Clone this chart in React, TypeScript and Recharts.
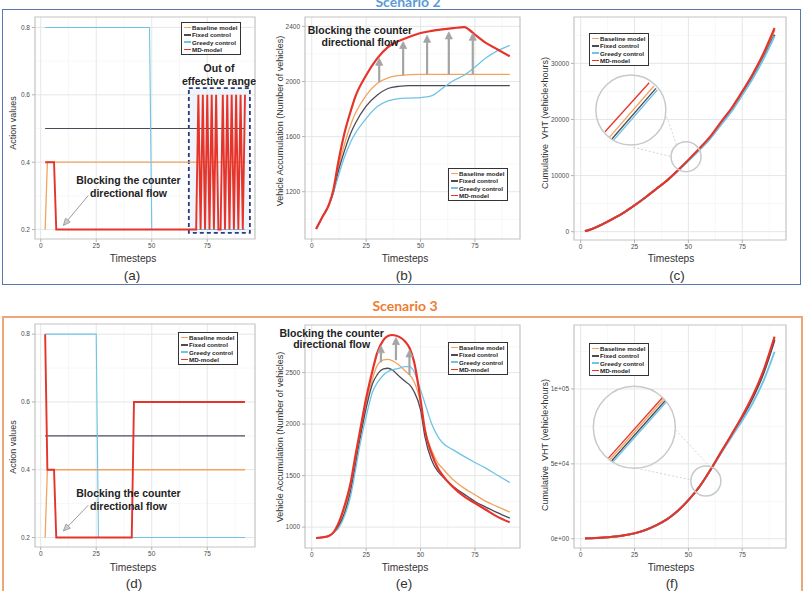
import React from 'react';
import {
  LineChart,
  Line,
  XAxis,
  YAxis,
  CartesianGrid,
  ReferenceArea,
  ReferenceLine,
  ReferenceDot,
} from 'recharts';

const FONT = "'Liberation Sans', Arial, Helvetica, sans-serif";

const SERIES = ['Baseline model', 'Fixed control', 'Greedy control', 'MD-model'];
const COLORS = ['#F2A35E', '#4B4B58', '#6EC4E6', '#E6342B'];

const X_TICKS = [0, 25, 50, 75];
const X_MINOR = [12.5, 37.5, 62.5, 87.5];

const ACT_TICKS = [0.2, 0.4, 0.6, 0.8];
const ACT_MINOR = [0.3, 0.5, 0.7];
const ACC2_TICKS = [1200, 1600, 2000, 2400];
const ACC2_MINOR = [1000, 1400, 1800, 2200];
const CUM2_TICKS = [0, 10000, 20000, 30000];
const CUM2_MINOR = [5000, 15000, 25000, 35000];
const ACC3_TICKS = [1000, 1500, 2000, 2500];
const ACC3_MINOR = [1250, 1750, 2250, 2750];
const CUM3_TICKS = [0, 50000, 100000];
const CUM3_MINOR = [25000, 75000, 125000];
const CUM3_LABELS = ['0e+00', '5e+04', '1e+05'];

// ---- Scenario 2: action values (timestep, value)
const S2_ACT_BASE = [[2, 0.2], [3, 0.4], [92, 0.4]];
const S2_ACT_FIXED = [[2, 0.5], [92, 0.5]];
const S2_ACT_GREEDY = [[2, 0.8], [49, 0.8], [50, 0.2], [92, 0.2]];
const S2_ACT_MD = [
  [2, 0.4], [6, 0.4], [7, 0.2], [70, 0.2], [71, 0.6], [72, 0.2], [73, 0.6], [74, 0.2],
  [75, 0.6], [76, 0.2], [77, 0.6], [78, 0.2], [79, 0.6], [80, 0.2], [81, 0.2], [82, 0.6],
  [83, 0.2], [84, 0.6], [85, 0.2], [86, 0.6], [87, 0.2], [88, 0.6], [89, 0.2], [90, 0.6],
  [91, 0.2], [92, 0.6],
];

// ---- Scenario 2: vehicle accumulation
const S2_ACC_T = [2, 5, 8, 10, 12, 15, 18, 20, 25, 30, 35, 40, 45, 50, 55, 60, 65, 70, 75, 80, 85, 91];
const S2_ACC_BASE = [930, 1020, 1110, 1200, 1360, 1542, 1690, 1767, 1900, 1985, 2026, 2043, 2050, 2052, 2052, 2052, 2052, 2052, 2052, 2052, 2052, 2052];
const S2_ACC_FIXED = [930, 1020, 1110, 1198, 1335, 1495, 1628, 1695, 1821, 1900, 1949, 1965, 1970, 1970, 1970, 1970, 1970, 1970, 1970, 1970, 1970, 1970];
const S2_ACC_GREEDY = [930, 1020, 1110, 1195, 1300, 1450, 1565, 1623, 1731, 1816, 1859, 1876, 1880, 1883, 1895, 1950, 2005, 2045, 2105, 2170, 2220, 2262];
const S2_ACC_MD = [930, 1020, 1110, 1218, 1398, 1623, 1790, 1888, 2045, 2166, 2250, 2294, 2325, 2352, 2367, 2378, 2387, 2395, 2340, 2280, 2236, 2183];

// ---- Scenario 2: cumulative VHT
const S2_CUM_T = [2, 5, 10, 15, 20, 25, 30, 35, 40, 45, 50, 55, 60, 65, 70, 75, 80, 85, 90];
const S2_CUM_BASE = [100, 450, 1300, 2300, 3400, 4700, 6100, 7600, 9100, 10880, 12750, 14700, 16800, 19300, 21850, 24800, 27950, 31600, 35900];
const S2_CUM_FIXED = [100, 450, 1300, 2300, 3400, 4700, 6100, 7600, 9100, 10850, 12700, 14600, 16650, 19100, 21600, 24500, 27600, 31100, 35100];
const S2_CUM_GREEDY = [100, 450, 1300, 2300, 3400, 4700, 6100, 7600, 9100, 10850, 12650, 14550, 16550, 19000, 21450, 24350, 27400, 30900, 34900];
const S2_CUM_MD = [100, 450, 1300, 2300, 3400, 4700, 6100, 7600, 9100, 10900, 12800, 14800, 16900, 19500, 22000, 25000, 28200, 31900, 36300];

// ---- Scenario 3: action values
const S3_ACT_BASE = [[2, 0.2], [3, 0.4], [92, 0.4]];
const S3_ACT_FIXED = [[2, 0.5], [92, 0.5]];
const S3_ACT_GREEDY = [[2, 0.8], [25, 0.8], [26, 0.2], [92, 0.2]];
const S3_ACT_MD = [[2, 0.8], [3, 0.4], [6, 0.4], [7, 0.2], [41, 0.2], [42, 0.6], [92, 0.6]];

// ---- Scenario 3: vehicle accumulation
const S3_ACC_T = [2, 5, 8, 10, 12, 15, 18, 20, 22, 25, 28, 30, 33, 35, 37, 40, 43, 45, 47, 50, 52, 55, 58, 60, 65, 70, 75, 80, 85, 91];
const S3_ACC_BASE = [894, 900, 916, 949, 1000, 1152, 1395, 1621, 1863, 2203, 2445, 2565, 2623, 2629, 2616, 2574, 2516, 2477, 2413, 2203, 1944, 1750, 1621, 1572, 1459, 1378, 1314, 1249, 1201, 1146];
const S3_ACC_FIXED = [894, 900, 916, 949, 1000, 1130, 1362, 1589, 1831, 2154, 2397, 2477, 2536, 2542, 2526, 2468, 2413, 2380, 2316, 2138, 1879, 1653, 1540, 1492, 1395, 1320, 1249, 1194, 1143, 1088];
const S3_ACC_GREEDY = [894, 900, 916, 949, 981, 1104, 1314, 1540, 1782, 2073, 2316, 2397, 2477, 2510, 2526, 2542, 2558, 2558, 2510, 2332, 2203, 2009, 1879, 1821, 1750, 1686, 1627, 1572, 1508, 1433];
const S3_ACC_MD = [894, 900, 916, 949, 1023, 1201, 1443, 1686, 1912, 2251, 2526, 2687, 2817, 2855, 2865, 2849, 2800, 2736, 2607, 2235, 1944, 1718, 1572, 1508, 1388, 1298, 1233, 1168, 1104, 1046];

// ---- Scenario 3: cumulative VHT
const S3_CUM_T = [2, 5, 10, 15, 20, 25, 30, 35, 40, 45, 50, 55, 60, 65, 70, 75, 80, 85, 90];
const S3_CUM_BASE = [200, 350, 700, 1300, 2200, 3600, 5800, 8900, 12900, 18500, 25800, 34500, 45500, 57400, 69300, 81500, 95200, 111800, 133800];
const S3_CUM_FIXED = [200, 350, 700, 1300, 2200, 3600, 5800, 8900, 12900, 18500, 25800, 34500, 45400, 57300, 69000, 81000, 94500, 111000, 132700];
const S3_CUM_GREEDY = [200, 350, 700, 1300, 2200, 3600, 5800, 8900, 12900, 18500, 25800, 34400, 45200, 56800, 68000, 79000, 91000, 106000, 124900];
const S3_CUM_MD = [200, 350, 700, 1300, 2200, 3600, 5800, 8900, 12900, 18500, 25800, 34500, 45500, 57500, 69500, 82000, 96000, 113000, 135000];

// arrows: gain of the MD-model over the baseline
const S2_ARROW_T = [31, 42, 53, 63, 74];
const S2_ARROW_FROM = [1997, 2045, 2052, 2052, 2052];
const S2_ARROW_TO = [2168, 2290, 2335, 2360, 2350];
const S3_ARROW_T = [31.8, 38.7, 44.9];
const S3_ARROW_FROM = [2600, 2620, 2477];
const S3_ARROW_TO = [2760, 2840, 2720];

type Row = { t: number; v: number };
type Ser = { name: string; color: string; width: number; rows: Row[] };
type Box = { x: number; y: number; w: number; h: number };

const pairs = (p: number[][]): Row[] => p.map(([t, v]) => ({ t, v }));
const zip = (t: number[], v: number[]): Row[] => t.map((x, i) => ({ t: x, v: v[i] }));
const mk = (rows: Row[][], widths: number[]): Ser[] =>
  rows.map((r, i) => ({ name: SERIES[i], color: COLORS[i], width: widths[i], rows: r }));

const arrowShape = (color: string, width: number, headLen: number, headW: number, fill: string) =>
  (p: any) => {
    const { x1, y1, x2, y2 } = p;
    const dx = x2 - x1;
    const dy = y2 - y1;
    const len = Math.hypot(dx, dy) || 1;
    const ux = dx / len;
    const uy = dy / len;
    const bx = x2 - ux * headLen;
    const by = y2 - uy * headLen;
    const nx = (-uy * headW) / 2;
    const ny = (ux * headW) / 2;
    return (
      <g>
        <line x1={x1} y1={y1} x2={bx} y2={by} stroke={color} strokeWidth={width} />
        <polygon
          points={`${x2},${y2} ${bx + nx},${by + ny} ${bx - nx},${by - ny}`}
          fill={fill}
          stroke={color}
          strokeWidth={0.8}
        />
      </g>
    );
  };

const thinArrow = arrowShape('#8f8f8f', 0.9, 7, 6, '#cfcfcf');
const fatArrow = arrowShape('#a5a5a5', 2.2, 7, 7, '#a5a5a5');

interface PanelProps {
  box: Box;
  xDomain: [number, number];
  yDomain: [number, number];
  yTicks: number[];
  yMinor: number[];
  yFmt: (v: number) => string;
  series: Ser[];
  curve: 'linear' | 'monotone';
  under?: React.ReactNode;
  over?: React.ReactNode;
}

function Panel({ box, xDomain, yDomain, yTicks, yMinor, yFmt, series, curve, under, over }: PanelProps) {
  const tickStyle = { fontSize: 6.5, fill: '#4d4d4d', fontFamily: FONT };
  return (
    <div style={{ position: 'absolute', left: box.x - 40, top: box.y - 4 }}>
      <LineChart width={box.w + 44} height={box.h + 20} margin={{ top: 4, right: 4, bottom: 0, left: 0 }}>
        <CartesianGrid verticalValues={X_MINOR} horizontalValues={yMinor} stroke="#f2f2f2" strokeWidth={0.6} />
        <CartesianGrid verticalValues={X_TICKS} horizontalValues={yTicks} stroke="#e3e3e3" strokeWidth={0.9} />
        <XAxis
          type="number"
          dataKey="t"
          domain={xDomain}
          allowDataOverflow
          ticks={X_TICKS}
          interval={0}
          height={16}
          axisLine={false}
          tickLine={{ stroke: '#b3b3b3' }}
          tickSize={3}
          tickMargin={1}
          tick={tickStyle}
        />
        <YAxis
          type="number"
          dataKey="v"
          domain={yDomain}
          allowDataOverflow
          ticks={yTicks}
          interval={0}
          width={40}
          axisLine={false}
          tickLine={{ stroke: '#b3b3b3' }}
          tickSize={3}
          tickMargin={2}
          tick={tickStyle}
          tickFormatter={yFmt}
        />
        <ReferenceArea
          x1={xDomain[0]}
          x2={xDomain[1]}
          y1={yDomain[0]}
          y2={yDomain[1]}
          fill="none"
          stroke="#c4c4c4"
          strokeWidth={1.2}
        />
        {under}
        {series.map((s) => (
          <Line
            key={s.name}
            data={s.rows}
            dataKey="v"
            type={curve}
            stroke={s.color}
            strokeWidth={s.width}
            dot={false}
            activeDot={false}
            isAnimationActive={false}
          />
        ))}
        {over}
      </LineChart>
    </div>
  );
}

function LegendBox({ x, y }: { x: number; y: number }) {
  return (
    <div
      style={{
        position: 'absolute',
        left: x,
        top: y,
        border: '1.5px solid #333',
        background: '#fff',
        padding: '1px 3px 1px 2px',
        fontFamily: FONT,
        fontWeight: 700,
        fontSize: 6.2,
        lineHeight: '7.3px',
        color: '#222',
        whiteSpace: 'nowrap',
      }}
    >
      {SERIES.map((n, i) => (
        <div key={n} style={{ display: 'flex', alignItems: 'center' }}>
          <span style={{ display: 'inline-block', width: 7, height: 1.6, background: COLORS[i], marginRight: 1 }} />
          {n}
        </div>
      ))}
    </div>
  );
}

function Txt({
  x, y, size, children, bold = false, color = '#333', rotate = false, lh, family = FONT,
}: {
  x: number; y: number; size: number; children: React.ReactNode; bold?: boolean; color?: string;
  rotate?: boolean; lh?: number; family?: string;
}) {
  return (
    <div
      style={{
        position: 'absolute',
        left: x,
        top: y,
        transform: `translate(-50%, -50%)${rotate ? ' rotate(-90deg)' : ''}`,
        fontFamily: family,
        fontSize: size,
        fontWeight: bold ? 700 : 400,
        color,
        whiteSpace: 'pre',
        textAlign: 'center',
        lineHeight: lh ? `${lh}px` : 'normal',
      }}
    >
      {children}
    </div>
  );
}

function lensParts(big: [number, number], bigR: number, small: [number, number], links: number[][][], strokes: number[][][]) {
  return (
    <>
      <ReferenceDot x={big[0]} y={big[1]} r={bigR} fill="none" stroke="#c9c9c9" strokeWidth={1.5} />
      <ReferenceDot x={small[0]} y={small[1]} r={15} fill="none" stroke="#c9c9c9" strokeWidth={1.5} />
      {links.map((s, i) => (
        <ReferenceLine
          key={`lk${i}`}
          segment={[{ x: s[0][0], y: s[0][1] }, { x: s[1][0], y: s[1][1] }]}
          stroke="#c9c9c9"
          strokeWidth={0.8}
          strokeDasharray="2 2"
        />
      ))}
      {strokes.map((s, i) => (
        <ReferenceLine
          key={`st${i}`}
          segment={[{ x: s[0][0], y: s[0][1] }, { x: s[1][0], y: s[1][1] }]}
          stroke={COLORS[[3, 0, 1, 2][i]]}
          strokeWidth={1.3}
        />
      ))}
    </>
  );
}

const BOX_A: Box = { x: 35, y: 17, w: 220, h: 222 };
const BOX_B: Box = { x: 305, y: 17, w: 215, h: 222 };
const BOX_C: Box = { x: 574, y: 17, w: 212, h: 223 };
const BOX_D: Box = { x: 35, y: 324, w: 220, h: 223 };
const BOX_E: Box = { x: 305, y: 325, w: 215, h: 223 };
const BOX_F: Box = { x: 574, y: 325, w: 212, h: 223 };

const fmt1 = (v: number) => v.toFixed(1);
const fmtInt = (v: number) => String(v);
const fmtSci = (v: number) => CUM3_LABELS[CUM3_TICKS.indexOf(v)] ?? String(v);

export default function App() {
  const actW = [1.3, 1.1, 1.1, 1.9];
  const accW = [1.3, 1.3, 1.3, 2.2];
  const cumW = [1.9, 1.9, 1.9, 2.1];

  const a = mk([pairs(S2_ACT_BASE), pairs(S2_ACT_FIXED), pairs(S2_ACT_GREEDY), pairs(S2_ACT_MD)], actW);
  const b = mk([zip(S2_ACC_T, S2_ACC_BASE), zip(S2_ACC_T, S2_ACC_FIXED), zip(S2_ACC_T, S2_ACC_GREEDY), zip(S2_ACC_T, S2_ACC_MD)], accW);
  const c = mk([zip(S2_CUM_T, S2_CUM_BASE), zip(S2_CUM_T, S2_CUM_FIXED), zip(S2_CUM_T, S2_CUM_GREEDY), zip(S2_CUM_T, S2_CUM_MD)], cumW);
  const d = mk([pairs(S3_ACT_BASE), pairs(S3_ACT_FIXED), pairs(S3_ACT_GREEDY), pairs(S3_ACT_MD)], actW);
  const e = mk([zip(S3_ACC_T, S3_ACC_BASE), zip(S3_ACC_T, S3_ACC_FIXED), zip(S3_ACC_T, S3_ACC_GREEDY), zip(S3_ACC_T, S3_ACC_MD)], accW);
  const f = mk([zip(S3_CUM_T, S3_CUM_BASE), zip(S3_CUM_T, S3_CUM_FIXED), zip(S3_CUM_T, S3_CUM_GREEDY), zip(S3_CUM_T, S3_CUM_MD)], cumW);

  const blocking = 'Blocking the counter\ndirectional flow';
  const vhtLabel = 'Cumulative  VHT (vehicle\u00d7hours)';
  const accLabel = 'Vehicle Accumulation (Number of vehicles)';

  return (
    <div
      style={{
        position: 'absolute',
        left: 0,
        top: 0,
        width: 804,
        height: 591,
        overflow: 'hidden',
        background: '#fff',
        fontFamily: FONT,
      }}
    >
      {/* scenario frames */}
      <div style={{ position: 'absolute', left: 2, top: 9, width: 797, height: 274, border: '1.5px solid #5877AC' }} />
      <div style={{ position: 'absolute', left: 2, top: 316, width: 797, height: 300, border: '2px solid #EFA676' }} />
      <Txt x={408} y={1} size={14} bold color="#5B9BD5" family="Lato, 'Open Sans', sans-serif">Scenario 2</Txt>
      <Txt x={405} y={305} size={14} bold color="#ED7D31" family="Lato, 'Open Sans', sans-serif">Scenario 3</Txt>

      <Panel
        box={BOX_A}
        xDomain={[-2.57, 96.5]}
        yDomain={[0.172, 0.831]}
        yTicks={ACT_TICKS}
        yMinor={ACT_MINOR}
        yFmt={fmt1}
        series={a}
        curve="linear"
        under={
          <ReferenceArea
            x1={66.7}
            x2={94.2}
            y1={0.19}
            y2={0.62}
            fill="#dce8f7"
            fillOpacity={0.45}
            stroke="#2E3A80"
            strokeWidth={1.8}
            strokeDasharray="4 3"
          />
        }
        over={<ReferenceLine segment={[{ x: 21.4, y: 0.301 }, { x: 10.2, y: 0.212 }]} shape={thinArrow} />}
      />
      <Panel
        box={BOX_B}
        xDomain={[-3.1, 95.7]}
        yDomain={[857, 2468]}
        yTicks={ACC2_TICKS}
        yMinor={ACC2_MINOR}
        yFmt={fmtInt}
        series={b}
        curve="monotone"
        over={S2_ARROW_T.map((t, i) => (
          <ReferenceLine
            key={`a2${i}`}
            segment={[{ x: t, y: S2_ARROW_FROM[i] }, { x: t, y: S2_ARROW_TO[i] }]}
            shape={fatArrow}
          />
        ))}
      />
      <Panel
        box={BOX_C}
        xDomain={[-3.1, 95.3]}
        yDomain={[-1480, 38260]}
        yTicks={CUM2_TICKS}
        yMinor={CUM2_MINOR}
        yFmt={fmtInt}
        series={c}
        curve="monotone"
        over={lensParts(
          [23.3, 21680],
          35,
          [48.9, 13360],
          [
            [[39.9, 20490], [44.5, 15450]],
            [[24.4, 15040], [42.2, 13365]],
          ],
          [
            [[11.3, 17820], [31.8, 26550]],
            [[13.3, 16820], [34.0, 25960]],
            [[14.4, 16470], [34.9, 25550]],
            [[15.1, 16220], [35.5, 25250]],
          ],
        )}
      />
      <Panel
        box={BOX_D}
        xDomain={[-2.57, 96.5]}
        yDomain={[0.172, 0.83]}
        yTicks={ACT_TICKS}
        yMinor={ACT_MINOR}
        yFmt={fmt1}
        series={d}
        curve="linear"
        over={<ReferenceLine segment={[{ x: 21.4, y: 0.295 }, { x: 10.2, y: 0.219 }]} shape={thinArrow} />}
      />
      <Panel
        box={BOX_E}
        xDomain={[-3.1, 95.7]}
        yDomain={[797, 2962]}
        yTicks={ACC3_TICKS}
        yMinor={ACC3_MINOR}
        yFmt={fmtInt}
        series={e}
        curve="monotone"
        over={S3_ARROW_T.map((t, i) => (
          <ReferenceLine
            key={`a3${i}`}
            segment={[{ x: t, y: S3_ARROW_FROM[i] }, { x: t, y: S3_ARROW_TO[i] }]}
            shape={fatArrow}
          />
        ))}
      />
      <Panel
        box={BOX_F}
        xDomain={[-3.1, 95.3]}
        yDomain={[-6210, 142750]}
        yTicks={CUM3_TICKS}
        yMinor={CUM3_MINOR}
        yFmt={fmtSci}
        series={f}
        curve="monotone"
        over={lensParts(
          [24.9, 74400],
          41,
          [58.1, 38540],
          [
            [[44.2, 72600], [60.0, 48100]],
            [[26.0, 47030], [51.5, 39200]],
          ],
          [
            [[12.8, 53700], [38.1, 94460]],
            [[13.5, 52770], [38.7, 93520]],
            [[14.2, 51700], [39.4, 92450]],
            [[14.8, 51040], [40.0, 91780]],
          ],
        )}
      />

      {/* axis titles */}
      <Txt x={13} y={123} size={9} rotate>Action values</Txt>
      <Txt x={280} y={121} size={9} rotate>{accLabel}</Txt>
      <Txt x={545} y={123} size={9} rotate>{vhtLabel}</Txt>
      <Txt x={13} y={447} size={9} rotate>Action values</Txt>
      <Txt x={280} y={437} size={9} rotate>{accLabel}</Txt>
      <Txt x={545} y={445} size={9} rotate>{vhtLabel}</Txt>

      <Txt x={133} y={258} size={10.2}>Timesteps</Txt>
      <Txt x={405} y={258} size={10.2}>Timesteps</Txt>
      <Txt x={671} y={258} size={10.2}>Timesteps</Txt>
      <Txt x={133} y={567} size={10.2}>Timesteps</Txt>
      <Txt x={405} y={567} size={10.2}>Timesteps</Txt>
      <Txt x={671} y={567} size={10.2}>Timesteps</Txt>

      <Txt x={132} y={275} size={13.5}>(a)</Txt>
      <Txt x={404} y={275} size={13.5}>(b)</Txt>
      <Txt x={677} y={275} size={13.5}>(c)</Txt>
      <Txt x={134} y={583} size={13.5}>(d)</Txt>
      <Txt x={404} y={583} size={13.5}>(e)</Txt>
      <Txt x={672} y={583} size={13.5}>(f)</Txt>

      {/* annotations */}
      <Txt x={128.5} y={186.5} size={10.5} bold color="#222" lh={13}>{blocking}</Txt>
      <Txt x={219} y={74.5} size={10.5} bold color="#222" lh={13}>{'Out of\neffective range'}</Txt>
      <Txt x={360} y={36} size={10.5} bold color="#222" lh={12}>{blocking}</Txt>
      <Txt x={128.5} y={499} size={10.5} bold color="#222" lh={12.5}>{blocking}</Txt>
      <Txt x={331.7} y={338.5} size={10.5} bold color="#222" lh={11.5}>{blocking}</Txt>

      <LegendBox x={181} y={22} />
      <LegendBox x={448} y={168} />
      <LegendBox x={589} y={33} />
      <LegendBox x={178} y={332} />
      <LegendBox x={448} y={342} />
      <LegendBox x={589} y={343} />
    </div>
  );
}
